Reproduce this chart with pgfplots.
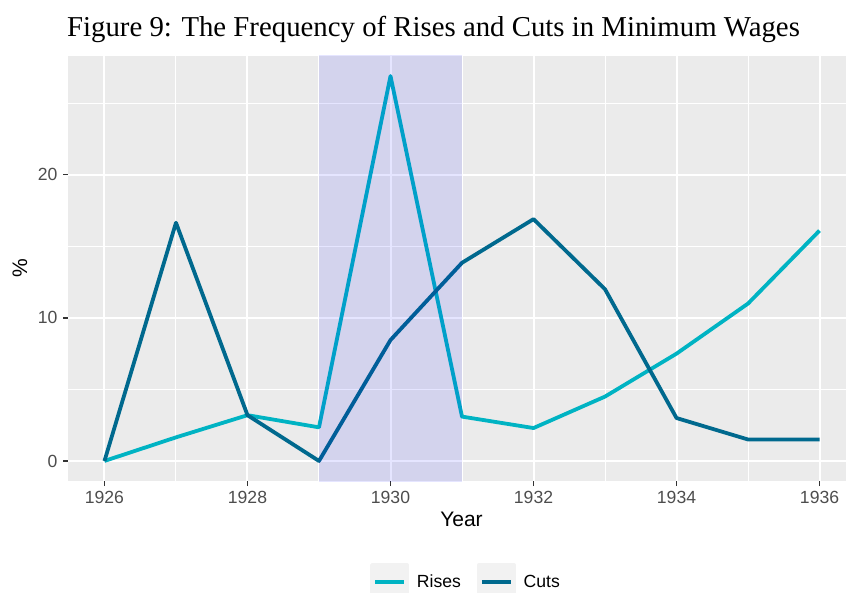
\documentclass[border=0pt]{standalone}
\usepackage{fontspec}
\setmainfont{Liberation Sans}
\newfontfamily\titlefont{Liberation Serif}
\usepackage{pgfplots}
\pgfplotsset{compat=1.18}
\definecolor{bg}{HTML}{EBEBEB}
\definecolor{rises}{HTML}{00B3C3}
\definecolor{cuts}{HTML}{00698E}
\definecolor{tickgray}{HTML}{4D4D4D}
\definecolor{tickmark}{HTML}{333333}
\definecolor{keygray}{HTML}{F2F2F2}
\begin{document}
\begin{tikzpicture}
\begin{axis}[
  at={(0,0)}, anchor=south west,
  scale only axis, width=778pt, height=425pt,
  xmin=1925.49, xmax=1936.37, ymin=-1.4, ymax=28.3,
  axis background/.style={fill=bg},
  axis line style={draw=none},
  xtick={1926,1928,...,1936}, minor xtick={1927,1929,...,1935},
  ytick={0,10,20}, minor ytick={5,15,25},
  grid=both,
  major grid style={white, line width=2pt},
  minor grid style={white, line width=1pt},
  tick align=outside, xtick pos=bottom, ytick pos=left,
  major tick length=5pt, minor tick length=0pt,
  tick style={tickmark, line width=1.4pt},
  /pgf/number format/1000 sep={}, /pgf/number format/assume math mode=true,
  ticklabel style={font=\fontsize{17.6}{20}\selectfont, text=tickgray},
  xticklabel style={yshift=-2pt},
  yticklabel style={xshift=-2pt},
  title={\titlefont Figure 9: The Frequency of Rises and Cuts in Minimum Wages},
  title style={at={(axis description cs:0.4698,1.0306)}, anchor=base, font=\fontsize{28.8}{32}\selectfont},
  xlabel={Year}, ylabel={\%},
  label style={font=\fontsize{21}{25}\selectfont},
  xlabel style={at={(axis description cs:0.5058,-0.108)}, anchor=base},
  ylabel style={at={(axis description cs:-0.0617,0.5)}, anchor=center},
  legend columns=2,
  legend style={at={(axis description cs:0.5116,-0.2376)}, anchor=center, draw=none, fill=none,
    font=\fontsize{17.6}{20}\selectfont, /tikz/every even column/.append style={column sep=14pt}},
  legend image code/.code={\fill[keygray] (0pt,-17pt) rectangle (35pt,17pt);
    \draw[#1, line width=4pt] (3pt,0pt) -- (32pt,0pt);
    \path (41pt,0pt);},
]
\addplot[rises, line width=3.8pt, line join=round] coordinates {
(1926,0) (1927,1.65) (1928,3.2) (1929,2.35) (1930,26.9) (1931,3.1) (1932,2.3) (1933,4.5) (1934,7.5) (1935,11.0) (1936,16.1)};
\addlegendentry{Rises}
\addplot[cuts, line width=3.8pt, line join=round] coordinates {
(1926,0) (1927,16.65) (1928,3.2) (1929,0) (1930,8.45) (1931,13.85) (1932,16.9) (1933,12.0) (1934,3.0) (1935,1.5) (1936,1.5)};
\addlegendentry{Cuts}
\addplot[draw=none, fill=blue, fill opacity=0.1, forget plot] coordinates {
(1929,-5) (1929,40) (1931,40) (1931,-5)};
\end{axis}
\pgfresetboundingbox
\path (-68pt,-111pt) rectangle (778pt,481pt);
\end{tikzpicture}
\end{document}
